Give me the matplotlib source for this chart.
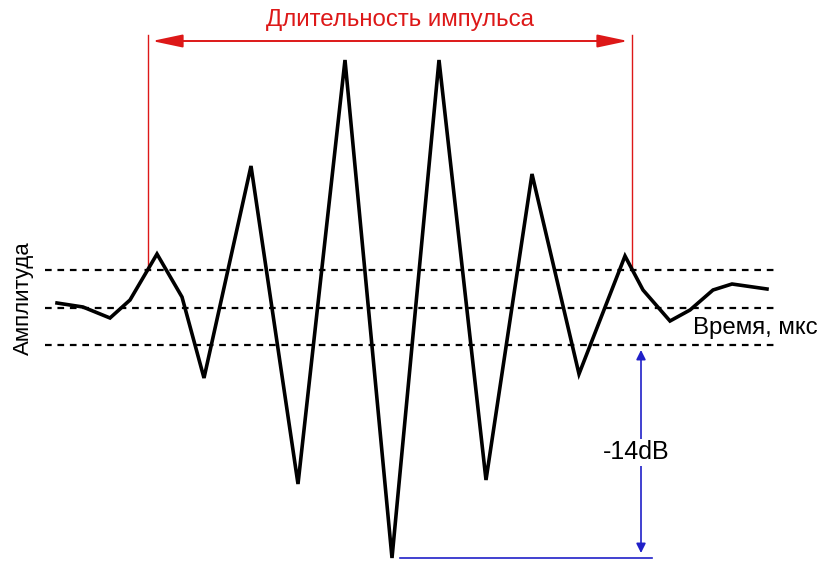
import matplotlib
matplotlib.use("Agg")
import matplotlib.pyplot as plt

plt.rcParams['font.family'] = ['Liberation Sans', 'DejaVu Sans']

# Waveform vertices (time, amplitude) on the drawing canvas
time_pts = [57, 83, 110, 130, 157, 182, 204, 251, 298, 345, 392, 439, 486, 532, 579,
            625, 643, 670, 690, 713, 732, 767]
amp_pts = [303, 307, 318, 300, 254, 297, 378, 166, 484, 60, 558, 60, 480, 174, 374,
           256, 290, 321, 310, 290, 284, 289]

# Reference levels (dashed)
levels = [270, 308, 345]
level_span = (45, 778)

# Pulse duration markers
pulse_start, pulse_end = 148, 632
duration_y = 41
title_text = "Длительность импульса"

# -14 dB marker
db_x = 641
db_top, db_bottom = 345, 558
db_text = "-14dB"

red = "#dd1818"
blue = "#2020c8"

fig = plt.figure(figsize=(8.21, 5.61), dpi=100)
ax = fig.add_axes([0, 0, 1, 1])
ax.set_xlim(0, 821)
ax.set_ylim(561, 0)
ax.axis("off")

for lv in levels:
    ax.plot(level_span, [lv, lv], color="black", lw=1.6, dashes=(3, 2.6))

# Pulse duration bracket
for xv in (pulse_start, pulse_end):
    ax.plot([xv, xv], [duration_y - 6, levels[0]], color=red, lw=1.0)
ax.annotate("", xy=(pulse_start + 4, duration_y), xytext=(pulse_end - 4, duration_y),
            arrowprops=dict(arrowstyle="<|-|>,head_length=0.85,head_width=0.18",
                            color=red, lw=1.4,
                            mutation_scale=22, shrinkA=0, shrinkB=0))
ax.text(400, 20, title_text, color=red, fontsize=17.3, ha="center", va="center")

# Waveform
ax.plot(time_pts, amp_pts, color="black", lw=2.6, solid_joinstyle="miter")

# -14 dB span
ax.plot([400, 652], [db_bottom, db_bottom], color=blue, lw=1.2)
ax.annotate("", xy=(db_x, db_top + 5), xytext=(db_x, db_bottom - 5),
            arrowprops=dict(arrowstyle="<|-|>", color=blue, lw=1.2,
                            mutation_scale=14, shrinkA=0, shrinkB=0))
ax.text(db_x - 5, 452, db_text, fontsize=18, ha="center", va="center",
        bbox=dict(facecolor="white", edgecolor="none", pad=1))

ax.text(23, 298, "Амплитуда", rotation=90, fontsize=16, ha="center", va="center")
ax.text(755, 328, "Время, мкс", fontsize=17.3, ha="center", va="center")

fig.savefig("out.png", dpi=100)
